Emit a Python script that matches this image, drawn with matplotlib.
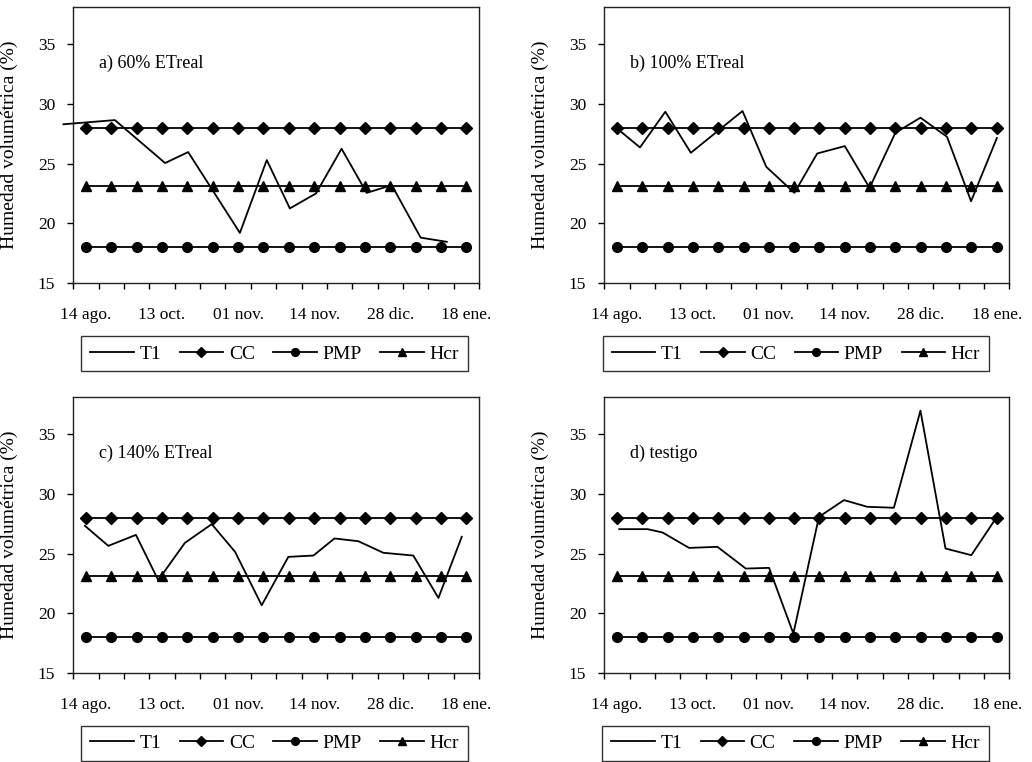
import matplotlib
matplotlib.use("Agg")
import matplotlib.pyplot as plt
import numpy as np

plt.rcParams['font.family'] = ['Liberation Serif', 'DejaVu Serif']

# ---- data ----
tick_labels = ["14 ago.", "13 oct.", "01 nov.", "14 nov.", "28 dic.", "18 ene."]
n_cat = 16
cc_value = 28.0
pmp_value = 18.0
hcr_value = 23.1

panel_titles = ["a) 60% ETreal", "b) 100% ETreal", "c) 140% ETreal", "d) testigo"]

t1_a_x = [-0.89, 1.14, 3.12, 4.03, 6.07, 7.13, 8.04, 9.07, 10.08, 11.07, 12.06, 13.2, 14.23]
t1_a_y = [28.3, 28.65, 25.05, 25.97, 19.2, 25.3, 21.25, 22.5, 26.25, 22.55, 23.2, 18.8, 18.45]

t1_b_x = [0.0, 0.91, 1.91, 2.92, 4.96, 5.9, 7.01, 7.91, 9.0, 9.98, 11.0, 11.99, 13.04, 13.99, 15.01]
t1_b_y = [27.95, 26.36, 29.35, 25.91, 29.41, 24.73, 22.55, 25.85, 26.47, 22.97, 27.59, 28.85, 27.25, 21.85, 27.15]

t1_c_x = [-0.04, 0.88, 1.97, 2.85, 3.9, 4.96, 5.88, 6.93, 7.98, 8.97, 9.8, 10.74, 11.73, 12.91, 13.9, 14.82]
t1_c_y = [27.32, 25.64, 26.56, 22.77, 25.89, 27.46, 25.14, 20.67, 24.72, 24.83, 26.26, 26.03, 25.06, 24.83, 21.28, 26.4]

t1_d_x = [0.09, 1.21, 1.8, 2.85, 3.97, 5.09, 6.01, 6.97, 7.98, 8.97, 9.89, 10.94, 11.99, 12.98, 14.0, 15.01]
t1_d_y = [27.04, 27.04, 26.76, 25.47, 25.56, 23.74, 23.8, 18.3, 28.07, 29.47, 28.91, 28.83, 36.96, 25.42, 24.86, 28.07]

t1_x = [t1_a_x, t1_b_x, t1_c_x, t1_d_x]
t1_y = [t1_a_y, t1_b_y, t1_c_y, t1_d_y]

# ---- layout ----
W, H = 1032, 762
fig = plt.figure(figsize=(W / 100, H / 100), dpi=100)

boxes = [  # left, right, top, bottom in pixels
    (73.3, 479.0, 7.3, 283.0),
    (604.3, 1009.3, 7.3, 283.0),
    (73.3, 479.0, 397.0, 673.0),
    (604.3, 1009.3, 397.0, 673.0),
]
legend_cx = [0.496, 0.473, 0.496, 0.472]
legend_cy = [-0.257, -0.257, -0.254, -0.254]

cats = np.arange(n_cat)
fs_tick = 12.5
fs_text = 13

for i, (l, r, t, b) in enumerate(boxes):
    ax = fig.add_axes([l / W, (H - b) / H, (r - l) / W, (b - t) / H])
    ax.plot(t1_x[i], t1_y[i], color='black', lw=1.3, label='T1', clip_on=False, zorder=4)
    ax.plot(cats, [cc_value] * n_cat, color='black', lw=1.3, marker='D', ms=6.3,
            label='CC', zorder=3)
    ax.plot(cats, [pmp_value] * n_cat, color='black', lw=1.3, marker='o', ms=7.0,
            label='PMP', zorder=3)
    ax.plot(cats, [hcr_value] * n_cat, color='black', lw=1.3, marker='^', ms=7.0,
            label='Hcr', zorder=3)

    ax.set_xlim(-0.5, n_cat - 0.5)
    ax.set_ylim(15, 38.1)
    ax.set_yticks([15, 20, 25, 30, 35])
    ax.set_xticks(np.arange(0, n_cat, 3))
    ax.set_xticklabels(tick_labels)
    ax.set_xticks(np.arange(-0.5, n_cat, 1), minor=True)
    ax.tick_params(axis='x', which='major', length=0, pad=17, labelsize=fs_tick)
    ax.tick_params(axis='x', which='minor', length=4, width=1, direction='out')
    ax.tick_params(axis='y', which='major', length=4, width=1, direction='out',
                   pad=9, labelsize=fs_tick)
    for s in ax.spines.values():
        s.set_linewidth(1.0)
        s.set_color('#222222')

    ax.set_ylabel('Humedad volumétrica (%)', fontsize=14)
    ax.yaxis.set_label_coords(-0.136, 0.5)

    ax.text(0.063, 0.797, panel_titles[i], transform=ax.transAxes,
            fontsize=fs_text, ha='left', va='center')

    leg = ax.legend(loc='center', bbox_to_anchor=(legend_cx[i], legend_cy[i]),
                    ncol=4, fontsize=14, frameon=True, fancybox=False,
                    edgecolor='black', handlelength=2.25, handletextpad=0.28,
                    columnspacing=0.95, borderpad=0.45, markerscale=0.8)
    leg.get_frame().set_linewidth(1.0)

fig.savefig('out.png', dpi=100)
